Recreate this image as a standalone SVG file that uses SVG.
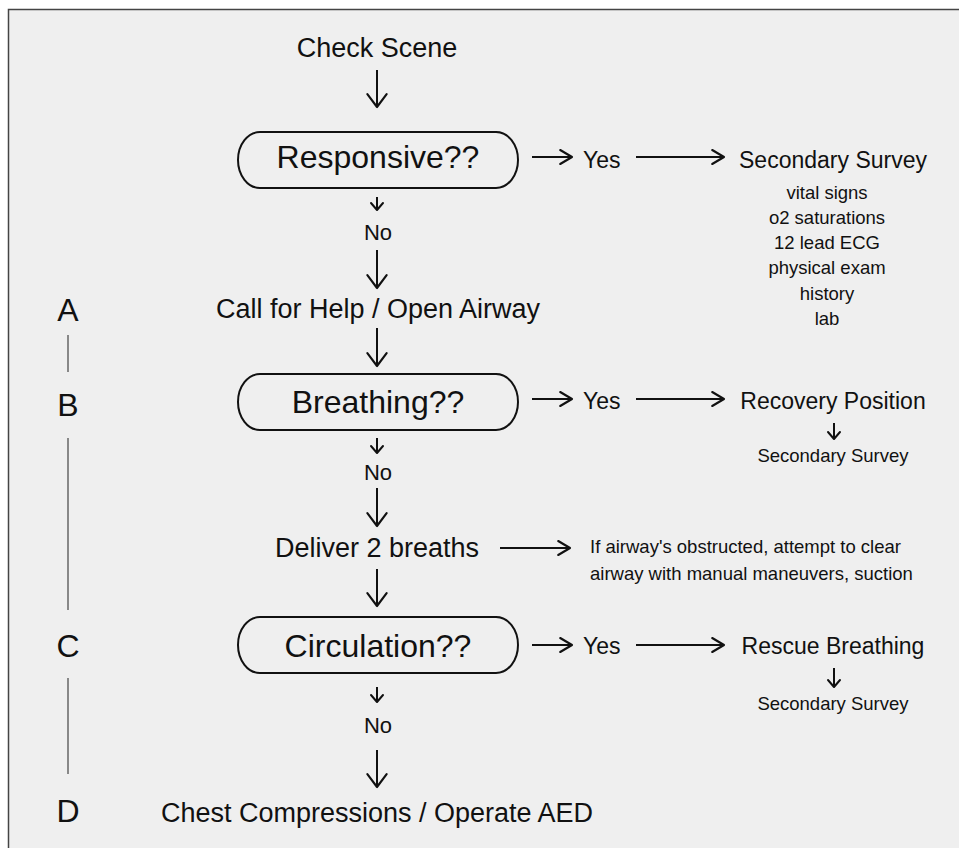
<svg xmlns="http://www.w3.org/2000/svg" width="959" height="848" viewBox="0 0 959 848">
<style>
text{font-family:"Liberation Sans",Arial,sans-serif;fill:#111;text-anchor:middle}
.m{font-size:27px}
.q{font-size:32px}
.l{font-size:32px}
.n{font-size:22px}
.y{font-size:23px;text-anchor:start}
.r{font-size:23px}
.s{font-size:18.5px}
.sl{font-size:18.5px;text-anchor:start}
.pill{fill:none;stroke:#111;stroke-width:2}
.c{stroke:#111;stroke-width:2;fill:none}
.v{marker-end:url(#vh)}
.h{marker-end:url(#hh)}
.sm{marker-end:url(#sh)}
.side{stroke:#666;stroke-width:1.5}
</style>
<defs>
<marker id="vh" markerUnits="userSpaceOnUse" markerWidth="30" markerHeight="30" viewBox="-14 -12 28 24" refX="0" refY="0" orient="auto" overflow="visible"><path d="M-12,-9 L0,0 L-12,9" fill="none" stroke="#111" stroke-width="2" stroke-linecap="round" stroke-linejoin="round"/></marker>
<marker id="hh" markerUnits="userSpaceOnUse" markerWidth="30" markerHeight="30" viewBox="-14 -12 28 24" refX="0" refY="0" orient="auto" overflow="visible"><path d="M-11,-6.5 L0,0 L-11,6.5" fill="none" stroke="#111" stroke-width="2" stroke-linecap="round" stroke-linejoin="round"/></marker>
<marker id="sh" markerUnits="userSpaceOnUse" markerWidth="20" markerHeight="20" viewBox="-10 -10 20 20" refX="0" refY="0" orient="auto" overflow="visible"><path d="M-7,-6 L0,0 L-7,6" fill="none" stroke="#111" stroke-width="2" stroke-linecap="round" stroke-linejoin="round"/></marker>
</defs>
<rect x="8.5" y="9.5" width="960" height="850" fill="#efefef" stroke="#444" stroke-width="1.5"/>

<g id="side-labels">
<text class="l" x="68" y="321">A</text>
<text class="l" x="68" y="416">B</text>
<text class="l" x="68" y="657">C</text>
<text class="l" x="68" y="822">D</text>
<line class="side" x1="68" y1="335" x2="68" y2="372"/>
<line class="side" x1="68" y1="438" x2="68" y2="610"/>
<line class="side" x1="68" y1="678" x2="68" y2="774"/>
</g>

<g id="check-scene"><text class="m" x="377" y="57">Check Scene</text></g>
<g id="responsive"><rect class="pill" x="238" y="132" width="280" height="56" rx="22" ry="28"/><text class="q" x="378" y="168">Responsive??</text></g>
<g id="no1"><text class="n" x="378" y="240">No</text></g>
<g id="call-help"><text class="m" x="378" y="318">Call for Help / Open Airway</text></g>
<g id="breathing"><rect class="pill" x="238" y="374" width="280" height="56" rx="22" ry="28"/><text class="q" x="378" y="413">Breathing??</text></g>
<g id="no2"><text class="n" x="378" y="480">No</text></g>
<g id="deliver"><text class="m" x="377" y="557">Deliver 2 breaths</text></g>
<g id="circulation"><rect class="pill" x="238" y="617" width="280" height="56" rx="22" ry="28"/><text class="q" x="378" y="657">Circulation??</text></g>
<g id="no3"><text class="n" x="378" y="733">No</text></g>
<g id="chest"><text class="m" x="377" y="822">Chest Compressions / Operate AED</text></g>

<g id="yes1"><text class="y" x="583" y="168">Yes</text></g>
<g id="secondary-survey"><text class="r" x="833" y="168">Secondary Survey</text>
<text class="s" x="827" y="199">vital signs</text>
<text class="s" x="827" y="224">o2 saturations</text>
<text class="s" x="827" y="249">12 lead ECG</text>
<text class="s" x="827" y="274">physical exam</text>
<text class="s" x="827" y="300">history</text>
<text class="s" x="827" y="325">lab</text></g>

<g id="yes2"><text class="y" x="583" y="409">Yes</text></g>
<g id="recovery"><text class="r" x="833" y="409">Recovery Position</text></g>
<g id="secondary2"><text class="s" x="833" y="462">Secondary Survey</text></g>

<g id="obstructed"><text class="sl" x="590" y="553">If airway's obstructed, attempt to clear</text>
<text class="sl" x="590" y="580">airway with manual maneuvers, suction</text></g>

<g id="yes3"><text class="y" x="583" y="654">Yes</text></g>
<g id="rescue"><text class="r" x="833" y="654">Rescue Breathing</text></g>
<g id="secondary3"><text class="s" x="833" y="710">Secondary Survey</text></g>

<g id="connectors">
<line class="c v" x1="377" y1="70" x2="377" y2="107"/>
<line class="c sm" x1="377" y1="197" x2="377" y2="210"/>
<line class="c v" x1="377" y1="250" x2="377" y2="288"/>
<line class="c v" x1="377" y1="328" x2="377" y2="366"/>
<line class="c sm" x1="377" y1="438" x2="377" y2="453"/>
<line class="c v" x1="377" y1="488" x2="377" y2="526"/>
<line class="c v" x1="377" y1="569" x2="377" y2="606"/>
<line class="c sm" x1="377" y1="687" x2="377" y2="702"/>
<line class="c v" x1="377" y1="750" x2="377" y2="787"/>

<line class="c h" x1="532" y1="157" x2="572" y2="157"/>
<line class="c h" x1="636" y1="157" x2="724" y2="157"/>
<line class="c h" x1="532" y1="399" x2="572" y2="399"/>
<line class="c h" x1="636" y1="399" x2="724" y2="399"/>
<line class="c sm" x1="834" y1="423" x2="834" y2="439"/>
<line class="c h" x1="500" y1="548" x2="570" y2="548"/>
<line class="c h" x1="532" y1="645" x2="572" y2="645"/>
<line class="c h" x1="636" y1="645" x2="724" y2="645"/>
<line class="c sm" x1="834" y1="668" x2="834" y2="687"/>
</g>
</svg>
